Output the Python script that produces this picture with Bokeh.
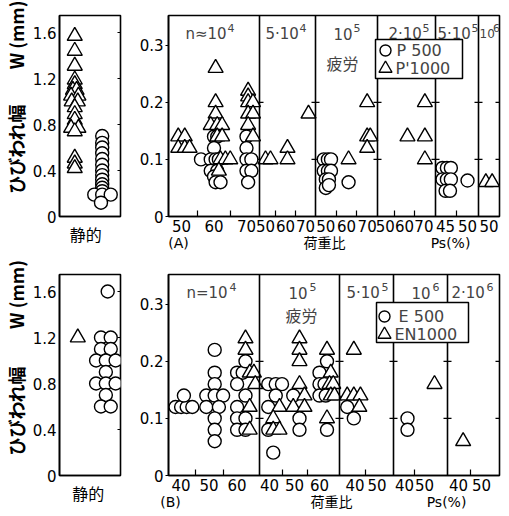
from bokeh.plotting import figure
from bokeh.layouts import row, column
from bokeh.models import (Range1d, FixedTicker, Label, Span, BoxAnnotation, LinearAxis)
from bokeh.embed import file_html
from bokeh.resources import INLINE

# ======================= DATA =======================
# (A) static test: position inside the column (0..1), crack width W (mm)
a_static_tri_pos = [0.25, 0.25, 0.25, 0.25, 0.25, 0.22, 0.28, 0.19, 0.31, 0.20, 0.30,
                    0.25, 0.25, 0.25, 0.19, 0.31, 0.25, 0.25, 0.25, 0.25]
a_static_tri_w = [1.57, 1.44, 1.31, 1.19, 1.15, 1.10, 1.10, 1.05, 1.05, 1.00, 1.00,
                  0.95, 0.89, 0.84, 0.77, 0.77, 0.74, 0.51, 0.46, 0.42]
a_static_cir_pos = [0.70, 0.70, 0.70, 0.70, 0.70, 0.70, 0.70, 0.70, 0.70, 0.70, 0.70,
                    0.70, 0.57, 0.70, 0.84, 0.68]
a_static_cir_w = [0.70, 0.64, 0.60, 0.55, 0.50, 0.45, 0.40, 0.36, 0.32, 0.28, 0.25,
                  0.22, 0.19, 0.19, 0.19, 0.12]

# (B) static test
b_static_tri_pos = [0.30]
b_static_tri_w = [1.20]
b_static_cir_pos = [0.79, 0.68, 0.84, 0.68, 0.84, 0.60, 0.76, 0.92, 0.76, 0.60, 0.76,
                    0.92, 0.76, 0.68, 0.84]
b_static_cir_w = [1.60, 1.20, 1.20, 1.10, 1.10, 1.00, 1.00, 1.00, 0.90, 0.80, 0.80,
                  0.80, 0.70, 0.60, 0.60]

# (A) fatigue: (Ps %, W mm) per number-of-cycles group
a_groups = ["n≈10", "5·10", "10", "2·10", "5·10", "10"]
a_group_exp = ["4", "4", "5", "5", "5", "6"]
a_legend = ["P 500", "P'1000"]
a1_cir = [(60, 0.14), (61, 0.14), (60, 0.12), (56, 0.10), (59, 0.10), (60.5, 0.10),
          (61.5, 0.10), (59, 0.08), (61, 0.08), (60, 0.07), (60.5, 0.06), (62, 0.06),
          (70, 0.14), (70, 0.12), (70, 0.10), (71.5, 0.10), (70, 0.08), (71.5, 0.08),
          (70.5, 0.06)]
a1_tri = [(49, 0.14), (51, 0.14), (49, 0.12), (51, 0.12), (52.5, 0.12),
          (60.5, 0.26), (60.5, 0.20), (60.5, 0.18), (59, 0.16), (61, 0.16), (62.5, 0.16),
          (61, 0.14), (62.5, 0.14), (62, 0.10), (63.5, 0.10), (65, 0.10), (61.5, 0.08),
          (70.5, 0.22), (70.5, 0.21), (70.5, 0.20), (72, 0.20), (70.5, 0.18), (72, 0.18),
          (70.5, 0.16), (72, 0.14)]
a2_cir = []
a2_tri = [(50, 0.10), (52.5, 0.10), (61, 0.12), (61, 0.10), (71.5, 0.18)]
a3_cir = [(49, 0.10), (51, 0.10), (52.5, 0.10), (49, 0.08), (51, 0.08), (52.5, 0.08),
          (50, 0.065), (51.5, 0.065), (50, 0.05), (51.5, 0.055), (61, 0.06)]
a3_tri = [(61, 0.10), (70, 0.20), (70, 0.14), (71.5, 0.14), (70, 0.12)]
a4_cir = []
a4_tri = [(61.5, 0.14), (70.5, 0.20), (70.5, 0.14), (70.5, 0.10)]
a5_cir = [(44.3, 0.085), (45.3, 0.085), (46.2, 0.085), (44.3, 0.065), (45.3, 0.065),
          (46.2, 0.065), (45, 0.045), (46, 0.045), (50, 0.063)]
a5_tri = []
a6_cir = []
a6_tri = [(48.5, 0.06), (51.5, 0.06)]
a_ticks = [[50, 60, 70], [50, 60, 70], [50, 60, 70], [50, 60, 70], [45, 50], [50]]
a_minor = [[55, 65], [55, 65], [55, 65], [55, 65], [47.5], []]

# (B) fatigue
b_groups = ["n=10", "10", "5·10", "10", "2·10"]
b_group_exp = ["4", "5", "5", "6", "6"]
b_legend = ["E 500", "EN1000"]
b1_cir = [(38, 0.12), (40, 0.12), (42, 0.12), (44, 0.12), (41, 0.14),
          (52, 0.22), (52, 0.18), (52, 0.16), (49, 0.14), (52, 0.14), (55, 0.14),
          (49, 0.12), (53.5, 0.12), (52, 0.10), (52, 0.08), (52, 0.06),
          (60, 0.18), (62, 0.18), (63, 0.20), (60, 0.16), (63, 0.14), (60, 0.12),
          (60, 0.10), (63, 0.10), (60, 0.08), (63, 0.08)]
b1_tri = [(63, 0.24), (63, 0.22), (64.5, 0.18), (66, 0.18), (66.5, 0.16), (64.5, 0.12),
          (64.5, 0.08)]
b2_cir = [(39.5, 0.16), (42.5, 0.16), (45, 0.16), (42.5, 0.14), (39.5, 0.12), (39.5, 0.08),
          (41.5, 0.04), (49.5, 0.14), (52, 0.10), (52, 0.08), (60, 0.18), (63, 0.20),
          (60, 0.16), (62, 0.16), (60, 0.14), (62.5, 0.14), (63, 0.08)]
b2_tri = [(44, 0.12), (41.5, 0.10), (41.5, 0.08), (44, 0.08), (52, 0.24), (52, 0.22),
          (52, 0.20), (52, 0.16), (54, 0.14), (49.5, 0.12), (54, 0.12), (63, 0.22),
          (64.5, 0.18), (64, 0.16), (65.5, 0.16), (64.5, 0.14), (66, 0.14), (63, 0.10)]
b3_cir = [(36.5, 0.12), (39.5, 0.10)]
b3_tri = [(39.5, 0.22), (36.5, 0.14), (39.5, 0.14), (42.5, 0.14), (42, 0.12)]
b4_cir = [(41.5, 0.10), (41.5, 0.08)]
b4_tri = [(55, 0.16)]
b5_cir = []
b5_tri = [(42, 0.06)]
b_ticks = [[40, 50, 60], [40, 50, 60], [40, 50], [40, 50], [40, 50]]
b_minor = [[45, 55], [45, 55], [45], [45], [45]]

static_w_ticks = [0, 0.4, 0.8, 1.2, 1.6]
fat_w_ticks = [0, 0.1, 0.2, 0.3]

# ======================= LAYOUT / STYLE =======================
NUM_FONT = "DejaVu Sans"
JP_FONT = "Noto Sans CJK JP"
TICK_SIZE = "15px"
W_MAX_STATIC = 1.748
W_MAX_FAT = 0.352
FRAME_H = 201
FAT_W = 331
PX_PER_W = FRAME_H / W_MAX_FAT
MARK = dict(fill_color="white", line_color="black", line_width=1.4)

# segment layout: (x0 px, x1 px, Ps at x0, Ps at x1)
A_LAYOUT = [(0, 91, 46, 74), (91, 147, 47, 75), (147, 209, 45, 75),
            (209, 267, 46, 76), (267, 310, 42.7, 52.5), (310, 331, 45, 55)]
B_LAYOUT = [(0, 91, 35.5, 68), (91, 171, 36, 68), (171, 225, 33, 57.5),
            (225, 279, 34.5, 61.5), (279, 331, 35.2, 57.8)]


def gx(layout, i, ps):
    x0, x1, lo, hi = layout[i]
    return round(x0 + (ps - lo) * (x1 - x0) / (hi - lo), 3)


def wy(px_from_top):
    return W_MAX_FAT - px_from_top / PX_PER_W


def style_axis(ax):
    ax.axis_line_width = 1.6
    ax.major_label_text_font = NUM_FONT
    ax.major_label_text_font_size = TICK_SIZE
    ax.major_label_text_color = "black"
    ax.major_tick_line_width = 1.2
    ax.minor_tick_line_width = 1.2


def style_common(p):
    p.grid.visible = False
    p.outline_line_color = "black"
    p.outline_line_width = 1.6
    p.background_fill_color = "white"
    p.border_fill_color = "white"
    for ax in p.axis:
        style_axis(ax)


def text_axis(ticks, texts, font, size, style="normal", orientation="horizontal"):
    ax = LinearAxis(ticker=FixedTicker(ticks=ticks),
                    major_label_overrides=dict(zip(ticks, texts)))
    ax.axis_line_alpha = 0
    ax.major_tick_out = 0
    ax.major_tick_in = 0
    ax.minor_tick_out = 0
    ax.minor_tick_in = 0
    ax.major_label_standoff = 0
    ax.major_label_text_font = font
    ax.major_label_text_font_size = size
    ax.major_label_text_font_style = style
    ax.major_label_text_color = "black"
    ax.major_label_orientation = orientation
    return ax


def fmt(v):
    return "0" if v == 0 else f"{v:g}"


def static_panel(tri_pos, tri_w, cir_pos, cir_w, lab_pos, top, bottom, vlab_w, wlab_w):
    p = figure(frame_width=61, frame_height=FRAME_H, x_range=Range1d(0, 1),
               y_range=Range1d(0, W_MAX_STATIC), min_border_left=57,
               min_border_right=8, min_border_top=top, min_border_bottom=bottom,
               output_backend="svg", toolbar_location=None, title=None)
    style_common(p)
    p.yaxis.ticker = FixedTicker(ticks=static_w_ticks)
    p.yaxis.major_label_overrides = {v: fmt(v) for v in static_w_ticks}
    p.yaxis.major_tick_out = 0
    p.yaxis.major_tick_in = 0
    p.yaxis.major_label_standoff = 3
    p.xaxis.ticker = FixedTicker(ticks=[lab_pos])
    p.xaxis.major_label_overrides = {lab_pos: "静的"}
    p.xaxis.major_label_text_font = JP_FONT
    p.xaxis.major_label_text_font_size = "16px"
    p.xaxis.major_tick_out = 0
    p.xaxis.major_tick_in = 0
    p.xaxis.major_label_standoff = 5
    # rotated y title texts
    p.add_layout(text_axis([vlab_w, wlab_w], ["ひびわれ幅", "W (mm)"], JP_FONT, "18px",
                           "bold", "vertical"), "left")
    p.scatter([1] * 4, static_w_ticks[1:], marker="dash", size=6,
              line_color="black", line_width=1.2)
    p.scatter(cir_pos, cir_w, marker="circle", size=13, **MARK)
    p.scatter(tri_pos, tri_w, marker="triangle", size=15, **MARK)
    return p


def fatigue_panel(layout, cir_sets, tri_sets, ticks, minor, groups, exps,
                  base_x, exp_x, base_sizes, base_top, exp_top, fatigue_xy,
                  legend_labels, legend_box, legend_mark_x, legend_rows, legend_text_x,
                  captions, caption_x, top, bottom):
    p = figure(frame_width=FAT_W, frame_height=FRAME_H, x_range=Range1d(0, FAT_W),
               y_range=Range1d(0, W_MAX_FAT), min_border_left=40,
               min_border_right=4, min_border_top=top, min_border_bottom=bottom,
               output_backend="svg", toolbar_location=None, title=None)
    style_common(p)
    p.yaxis.ticker = FixedTicker(ticks=fat_w_ticks)
    p.yaxis.major_label_overrides = {v: fmt(v) for v in fat_w_ticks}
    p.yaxis.major_tick_out = 3
    p.yaxis.major_tick_in = 0
    p.yaxis.major_label_standoff = 2

    major, minors, over = [], [], {}
    for i in range(len(layout)):
        for t in ticks[i]:
            g = gx(layout, i, t)
            major.append(g)
            over[g] = f"{t:g}"
        for t in minor[i]:
            minors.append(gx(layout, i, t))
    p.xaxis.ticker = FixedTicker(ticks=major, minor_ticks=minors)
    p.xaxis.major_label_overrides = over
    p.xaxis.major_tick_out = 0
    p.xaxis.major_tick_in = 0
    p.xaxis.minor_tick_out = 0
    p.xaxis.minor_tick_in = 6
    p.xaxis.major_label_standoff = 3

    # caption row under the axis: (A)/(B), 荷重比, Ps(%)
    p.add_layout(text_axis(caption_x, captions,
                           "DejaVu Sans, Noto Sans CJK JP", "14px"), "below")

    cx, cy, tx, ty = [], [], [], []
    for i, s in enumerate(cir_sets):
        for ps, w in s:
            cx.append(gx(layout, i, ps))
            cy.append(w)
    for i, s in enumerate(tri_sets):
        for ps, w in s:
            tx.append(gx(layout, i, ps))
            ty.append(w)

    bounds = [seg[1] for seg in layout[:-1]]
    for b in bounds:
        p.add_layout(Span(location=b, dimension="height", line_color="black",
                          line_width=1.6))
    dash_x = (bounds + [FAT_W]) * 2
    dash_y = [0.1] * (len(bounds) + 1) + [0.2] * (len(bounds) + 1)
    p.scatter(dash_x, dash_y, marker="dash", size=8, line_color="black",
              line_width=1.2)

    p.scatter(cx, cy, marker="circle", size=13, **MARK)
    p.scatter(tx, ty, marker="triangle", size=15, **MARK)

    for i in range(len(groups)):
        p.add_layout(Label(x=base_x[i], y=wy(base_top), text=groups[i],
                           text_align="left", text_baseline="middle",
                           text_font=NUM_FONT, text_font_size=base_sizes[i]))
        p.add_layout(Label(x=exp_x[i], y=wy(exp_top), text=exps[i],
                           text_align="left", text_baseline="middle",
                           text_font=NUM_FONT, text_font_size="11px"))
    p.add_layout(Label(x=fatigue_xy[0], y=wy(fatigue_xy[1]),
                       text="疲労", text_align="center", text_baseline="middle",
                       text_font=JP_FONT, text_font_size="16px"))

    # legend box drawn by hand so the symbols keep their full size
    l, r, t, b = legend_box
    p.add_layout(BoxAnnotation(left=l, right=r, top=wy(t), bottom=wy(b),
                               fill_color="white", fill_alpha=1.0,
                               line_color="black", line_width=1.5, line_alpha=1.0))
    p.scatter([legend_mark_x], [wy(legend_rows[0])], marker="circle", size=11,
              level="overlay", **MARK)
    p.scatter([legend_mark_x], [wy(legend_rows[1])], marker="triangle", size=13,
              level="overlay", **MARK)
    for k in range(2):
        p.add_layout(Label(x=legend_text_x[k], y=wy(legend_rows[k]),
                           text=legend_labels[k], text_align="left",
                           text_baseline="middle", text_font=NUM_FONT,
                           text_font_size="16px"))
    return p


# ---- row A ----
sa = static_panel(a_static_tri_pos, a_static_tri_w, a_static_cir_pos, a_static_cir_w,
                  0.43, 15, 41, 0.59, 1.58)
fa = fatigue_panel(A_LAYOUT, [a1_cir, a2_cir, a3_cir, a4_cir, a5_cir, a6_cir],
                   [a1_tri, a2_tri, a3_tri, a4_tri, a5_tri, a6_tri],
                   a_ticks, a_minor, a_groups, a_group_exp,
                   [17, 97, 165, 220, 269, 311], [59, 131, 185, 254, 303, 324.5],
                   ["15px", "15px", "15px", "15px", "15px", "12px"], 18, 12,
                   (174, 47), a_legend, (207, 294, 24, 63), 217, (35, 53), (228, 227),
                   ["(A)", "荷重比", "Ps(%)"], [10, 156, 282], 15, 41)

# ---- row B ----
sb = static_panel(b_static_tri_pos, b_static_tri_w, b_static_cir_pos, b_static_cir_w,
                  0.47, 17, 40, 0.565, 1.574)
fb = fatigue_panel(B_LAYOUT, [b1_cir, b2_cir, b3_cir, b4_cir, b5_cir],
                   [b1_tri, b2_tri, b3_tri, b4_tri, b5_tri],
                   b_ticks, b_minor, b_groups, b_group_exp,
                   [18, 120, 178, 243, 283], [61, 141, 213, 264, 318],
                   ["15px"] * 5, 18, 12,
                   (133, 40), b_legend, (208, 300, 28, 68), 216, (42, 60), (230, 226),
                   ["(B)", "荷重比", "Ps(%)"], [2, 163, 278], 17, 40)

layout = column(row(sa, fa), row(sb, fb))
open("out.html", "w").write(file_html(layout, INLINE))
